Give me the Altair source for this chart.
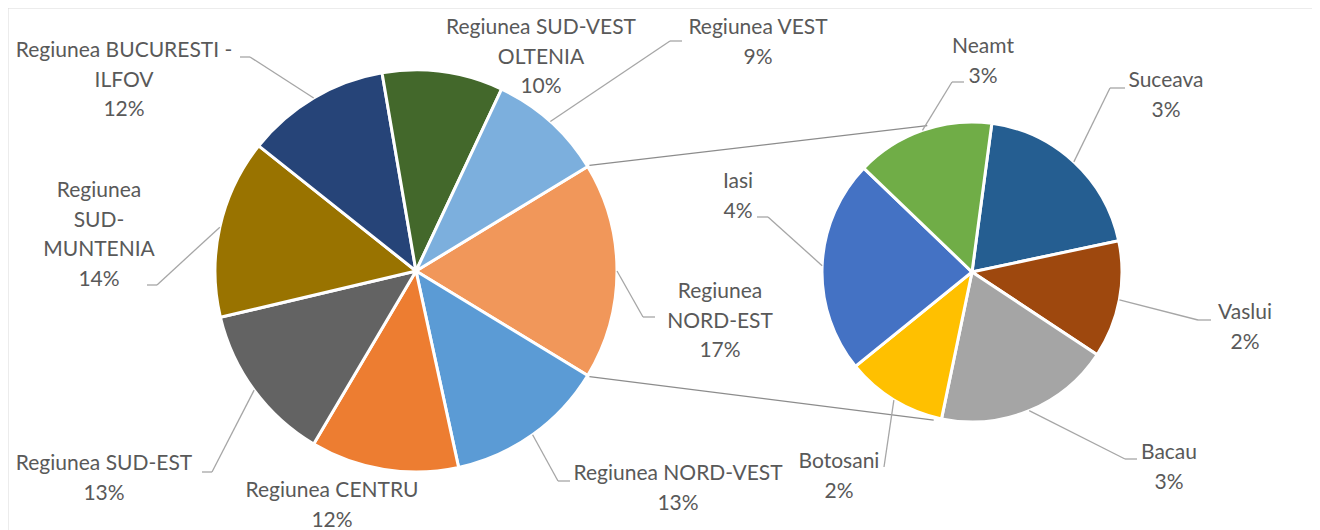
import math
import altair as alt
import pandas as pd

# ---------------- data ----------------
main_names = ["Regiunea NORD-EST", "Regiunea NORD-VEST", "Regiunea CENTRU",
              "Regiunea SUD-EST", "Regiunea SUD-MUNTENIA",
              "Regiunea BUCURESTI - ILFOV", "Regiunea SUD-VEST OLTENIA",
              "Regiunea VEST"]
main_values = [17.4, 12.9, 11.9, 12.8, 14.4, 11.6, 9.7, 9.3]
main_colors = ["#F1975A", "#5B9BD5", "#ED7D31", "#636363", "#997300",
               "#264478", "#43682B", "#7CAFDD"]

sub_names = ["Suceava", "Vaslui", "Bacau", "Botosani", "Iasi", "Neamt"]
sub_values = [3.4, 2.2, 3.3, 1.9, 4.0, 2.6]
sub_colors = ["#255E91", "#9E480E", "#A5A5A5", "#FFC000", "#4472C4", "#70AD47"]

# ---------------- layout (image pixel space) ----------------
W, H = 1304, 522
OX, OY = 8, 8
MAIN = dict(cx=416, cy=271, r=201)
SUB = dict(cx=972, cy=272, r=150, start_deg=7.6)
TEXT_COLOR = "#595959"
FONT = "Lato"
FS = 21
LH = 29.5

wrap = {
    "Regiunea NORD-EST": ["Regiunea", "NORD-EST"],
    "Regiunea NORD-VEST": ["Regiunea NORD-VEST"],
    "Regiunea CENTRU": ["Regiunea CENTRU"],
    "Regiunea SUD-EST": ["Regiunea SUD-EST"],
    "Regiunea SUD-MUNTENIA": ["Regiunea", "SUD-", "MUNTENIA"],
    "Regiunea BUCURESTI - ILFOV": ["Regiunea BUCURESTI -", "ILFOV"],
    "Regiunea SUD-VEST OLTENIA": ["Regiunea SUD-VEST", "OLTENIA"],
    "Regiunea VEST": ["Regiunea VEST"],
}
# label centre x, first line centre y
label_pos = {
    "Regiunea NORD-EST": (720, 292),
    "Regiunea NORD-VEST": (678, 474),
    "Regiunea CENTRU": (332, 491),
    "Regiunea SUD-EST": (104, 464),
    "Regiunea SUD-MUNTENIA": (99, 191),
    "Regiunea BUCURESTI - ILFOV": (124, 51),
    "Regiunea SUD-VEST OLTENIA": (541, 28),
    "Regiunea VEST": (758, 28),
    "Suceava": (1166, 81),
    "Vaslui": (1245, 313),
    "Bacau": (1169, 453),
    "Botosani": (839, 462),
    "Iasi": (738, 182),
    "Neamt": (983, 47),
}
# leader: label end point and elbow
leader_pos = {
    "Regiunea BUCURESTI - ILFOV": (240, 57, 250, 57),
    "Regiunea VEST": (682, 41, 670, 41),
    "Regiunea SUD-MUNTENIA": (147, 285, 157, 285),
    "Regiunea NORD-EST": (655, 317, 643, 317),
    "Regiunea SUD-EST": (202, 472, 212, 472),
    "Regiunea NORD-VEST": (570, 481, 558, 481),
    "Neamt": (964, 82, 952, 82),
    "Suceava": (1125, 88, 1110, 88),
    "Iasi": (757, 217, 768, 217),
    "Vaslui": (1211, 320, 1198, 320),
    "Botosani": (884, 467, 884, 467),
    "Bacau": (1137, 459, 1125, 459),
}
CONNECT_SUB_DEG = (343.0, 194.5)

main_total = sum(main_values)
sub_total = sum(sub_values)
main_start = math.pi / 2 - math.pi * main_values[0] / main_total
sub_start = math.radians(SUB["start_deg"])


def slices(names, values, pie):
    rows, c = [], 0.0
    for n, v in zip(names, values):
        rows.append(dict(name=n, value=v, t0=c, t1=c + v, cx=pie["cx"], cy=pie["cy"]))
        c += v
    return pd.DataFrame(rows)


def edge(pie, start, total, cum, r_extra=0.0):
    a = start + 2 * math.pi * cum / total
    r = pie["r"] + r_extra
    return pie["cx"] + r * math.sin(a), pie["cy"] - r * math.cos(a)


main_df = slices(main_names, main_values, MAIN)
sub_df = slices(sub_names, sub_values, SUB)

xs = alt.Scale(domain=[OX, OX + W], nice=False, zero=False)
ys = alt.Scale(domain=[OY, OY + H], nice=False, zero=False, reverse=True)


def X(f):
    return alt.X(f, type="quantitative", scale=xs, axis=None)


def Y(f):
    return alt.Y(f, type="quantitative", scale=ys, axis=None)


def pie_layer(df, names, colors, start, total, r):
    return alt.Chart(df).mark_arc(outerRadius=r, stroke="white", strokeWidth=3).encode(
        x=X("cx"), y=Y("cy"),
        theta=alt.Theta("t0:Q", scale=alt.Scale(domain=[0, total], range=[start, start + 2 * math.pi])),
        theta2="t1:Q",
        color=alt.Color("name:N", scale=alt.Scale(domain=names, range=colors), legend=None),
    )


main_pie = pie_layer(main_df, main_names, main_colors, main_start, main_total, MAIN["r"])
sub_pie = pie_layer(sub_df, sub_names, sub_colors, sub_start, sub_total, SUB["r"])

# labels and leaders
text_rows, lead_rows = [], []
for df, pie, start, total in ((main_df, MAIN, main_start, main_total),
                              (sub_df, SUB, sub_start, sub_total)):
    for _, row in df.iterrows():
        n = row["name"]
        lines = wrap.get(n, [n]) + [f"{round(row['value'])}%"]
        lx, ly = label_pos[n]
        for i, t in enumerate(lines):
            text_rows.append(dict(x=lx, y=ly + i * LH, text=t))
        if n in leader_pos:
            ex, ey, bx, by = leader_pos[n]
            px, py = edge(pie, start, total, (row["t0"] + row["t1"]) / 2)
            lead_rows.append(dict(x=px, y=py, x2=bx, y2=by))
            if (bx, by) != (ex, ey):
                lead_rows.append(dict(x=bx, y=by, x2=ex, y2=ey))

labels = alt.Chart(pd.DataFrame(text_rows)).mark_text(
    font=FONT, fontSize=FS, color=TEXT_COLOR, align="center", baseline="middle"
).encode(x=X("x"), y=Y("y"), text="text:N")

leaders = alt.Chart(pd.DataFrame(lead_rows)).mark_rule(color="#A6A6A6", strokeWidth=1.3).encode(
    x=X("x"), y=Y("y"), x2="x2:Q", y2="y2:Q")

# connector lines between the pies
conn_rows = []
for cum, deg in ((0.0, CONNECT_SUB_DEG[0]), (main_values[0], CONNECT_SUB_DEG[1])):
    px, py = edge(MAIN, main_start, main_total, cum, r_extra=2)
    a = math.radians(deg)
    qx, qy = SUB["cx"] + (SUB["r"] + 3) * math.sin(a), SUB["cy"] - (SUB["r"] + 3) * math.cos(a)
    conn_rows.append(dict(x=px, y=py, x2=qx, y2=qy))
connectors = alt.Chart(pd.DataFrame(conn_rows)).mark_rule(color="#8C8C8C", strokeWidth=1.3).encode(
    x=X("x"), y=Y("y"), x2="x2:Q", y2="y2:Q")

# chart frame (top and left edges visible)
frame_df = pd.DataFrame([dict(x=OX, y=OY, x2=OX + W, y2=OY), dict(x=OX, y=OY, x2=OX, y2=OY + H)])
frame = alt.Chart(frame_df).mark_rule(color="#D9D9D9", strokeWidth=1).encode(
    x=X("x"), y=Y("y"), x2="x2:Q", y2="y2:Q")

chart = alt.layer(frame, connectors, main_pie, sub_pie, leaders, labels).resolve_scale(
    theta="independent", color="independent"
).properties(
    width=W, height=H, padding=0, autosize=alt.AutoSizeParams(type="none")
).configure_view(stroke=None)

chart.save("out.html", embed_options={"renderer": "svg", "actions": False})
